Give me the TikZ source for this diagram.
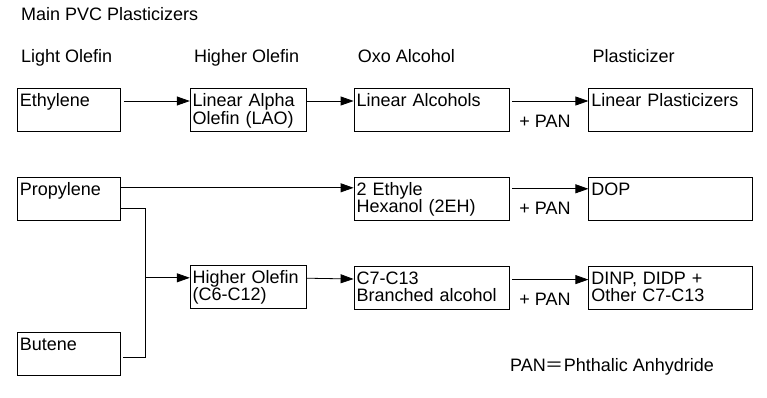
\documentclass[tikz,border=0pt]{standalone}
\usepackage{fontspec}
\setmainfont{Liberation Sans}
\newfontfamily\cjk{Noto Sans CJK JP}
\usetikzlibrary{positioning,arrows.meta}
\newcommand{\twolines}[2]{\rule{0pt}{16pt}#1\\#2\strut}

\begin{document}
\begin{tikzpicture}[
    >={Triangle[length=13pt,width=9pt]},
    every node/.style={font=\fontsize{18pt}{17.5pt}\selectfont},
    box/.style={
        rectangle, draw=black, line width=0.8pt, minimum height=43pt,
        inner xsep=2.5pt, inner ysep=2pt, align=left
    },
    colA/.style={box, text width=98pt},
    colB/.style={box, text width=111pt},
    colC/.style={box, text width=150pt},
    colD/.style={box, text width=159pt},
    flow/.style={->, line width=0.8pt, shorten <=3pt},
    pan/.style={pos=0.45, below=10pt},
    head/.style={anchor=base west, inner sep=0pt}
]
\useasboundingbox (0,0) rectangle (767pt,-397pt);

% first row
\node[colA, anchor=north west] (eth) at (17pt,-88pt) {\twolines{Ethylene}{}};
\node[colB, right=69pt of eth] (lao) {\twolines{Linear Alpha}{Olefin (LAO)}};
\node[colC, right=47pt of lao] (lalc) {\twolines{Linear Alcohols}{}};
\node[colD, right=79pt of lalc] (lpl) {\twolines{Linear Plasticizers}{}};

% second row
\node[colA, below=45pt of eth] (prop) {\twolines{Propylene}{}};
\node[colC, below=45pt of lalc] (eh) {\twolines{2 Ethyle}{Hexanol (2EH)}};
\node[colD, below=45pt of lpl] (dop) {\twolines{DOP}{}};

% third row
\node[colB, below=133pt of lao] (hol) {\twolines{Higher Olefin}{(C6-C12)}};
\node[colC, below=45pt of eh] (brc) {\twolines{C7-C13}{Branched alcohol}};
\node[colD, below=45pt of dop] (dinp) {\twolines{DINP, DIDP +}{Other C7-C13}};
\node[colA, below=111pt of prop] (but) {\twolines{Butene}{}};

% headings
\node[head] (hA) at ([shift={(4pt,26pt)}]eth.north west) {Light Olefin};
\node[head] (hB) at ([shift={(4pt,26pt)}]lao.north west) {Higher Olefin};
\node[head] (hC) at ([shift={(4pt,26pt)}]lalc.north west) {Oxo Alcohol};
\node[head] (hD) at ([shift={(4pt,26pt)}]lpl.north west) {Plasticizer};
\node[head] (title) at ([yshift=42pt]hA.base west) {Main PVC Plasticizers};
\node[head] (legend) at (510pt,-371pt) {PAN{\cjk ＝}Phthalic Anhydride};

% connectors
\draw[flow] ([yshift=-13pt]eth.north east) -- ([yshift=-13pt]lao.north west);
\draw[flow, shorten <=0pt] ([yshift=-13pt]lao.north east) -- ([yshift=-13pt]lalc.north west);
\draw[flow] ([yshift=-13pt]lalc.north east) -- ([yshift=-13pt]lpl.north west) node[pan] {+ PAN};

\draw[flow, shorten <=0pt] ([yshift=-11pt]prop.north east) -- ([yshift=-11pt]eh.north west);
\draw[flow] ([yshift=-12pt]eh.north east) -- ([yshift=-12pt]dop.north west) node[pan] {+ PAN};

\coordinate (jx) at ([xshift=25pt]prop.east);
\coordinate (hin) at ([yshift=-13pt]hol.north west);
\draw[line width=0.8pt] ([yshift=-32pt]prop.north east) -| ([shift={(25pt,-26pt)}]but.north east) -- ([shift={(2pt,-26pt)}]but.north east);
\draw[flow, shorten <=0pt] (jx |- hin) -- (hin);
\draw[flow, shorten <=0pt] ([yshift=-13.4pt]hol.north east) -- ([yshift=-13.4pt]brc.north west);
\draw[flow] ([yshift=-14pt]brc.north east) -- ([yshift=-14pt]dinp.north west) node[pan] {+ PAN};

\end{tikzpicture}
\end{document}
